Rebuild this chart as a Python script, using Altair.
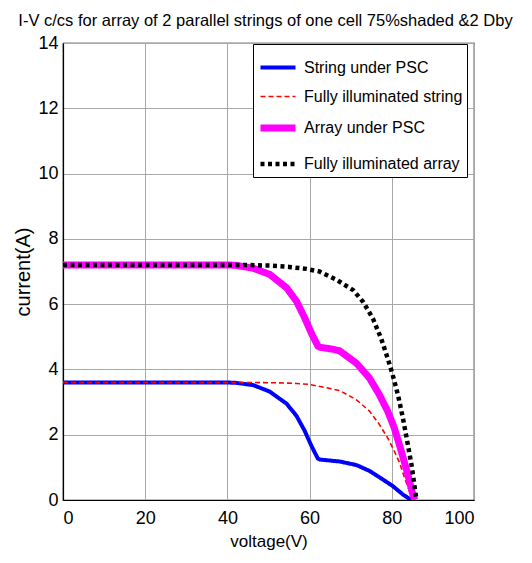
import altair as alt
import pandas as pd

# ---- data ----
series_names = ["String under PSC", "Fully illuminated string",
                "Array under PSC", "Fully illuminated array"]

str_psc_v = [0, 40, 42, 46.3, 50.3, 54.4, 56.8, 58.8, 60.4, 62.0, 62.5, 65.6, 67.3, 71.4, 74.6, 77.8, 80.2, 82.7, 84.7]
str_psc_i = [3.6, 3.6, 3.59, 3.52, 3.32, 2.95, 2.58, 2.12, 1.67, 1.27, 1.24, 1.20, 1.18, 1.07, 0.89, 0.63, 0.43, 0.17, 0.0]

str_full_v = [0, 45, 52, 56.8, 60, 64, 67.3, 69, 71.4, 74.6, 77, 79, 80.6, 81.9, 83.1, 84.3, 85.2]
str_full_i = [3.6, 3.6, 3.59, 3.57, 3.54, 3.44, 3.35, 3.24, 3.07, 2.72, 2.31, 1.9, 1.5, 1.14, 0.68, 0.27, 0.0]

arr_psc_v = [0, 40, 42, 46.3, 50.3, 54.4, 56.8, 58.8, 60.4, 62.0, 62.5, 65.6, 67.3, 71.4, 74.6, 77, 79, 80.6, 82.3, 83.9, 85.1, 85.6]
arr_psc_i = [7.2, 7.2, 7.19, 7.1, 6.91, 6.5, 6.09, 5.58, 5.12, 4.72, 4.68, 4.62, 4.57, 4.19, 3.73, 3.22, 2.72, 2.21, 1.5, 0.78, 0.17, 0.0]

arr_full_v = [0, 45, 50.3, 55, 59.2, 62.4, 66.5, 70.6, 73, 75.4, 77.4, 79, 80.2, 81.5, 82.7, 83.9, 84.9, 85.7, 86.0]
arr_full_i = [7.2, 7.2, 7.18, 7.14, 7.08, 7.0, 6.75, 6.43, 6.07, 5.56, 4.95, 4.34, 3.84, 3.22, 2.51, 1.7, 0.99, 0.27, 0.0]

x_ticks = [0, 20, 40, 60, 80, 100]
y_ticks = [0, 2, 4, 6, 8, 10, 12, 14]

rows = []
for k, (vs, cs) in enumerate([(str_psc_v, str_psc_i), (str_full_v, str_full_i),
                              (arr_psc_v, arr_psc_i), (arr_full_v, arr_full_i)]):
    for j, (v, c) in enumerate(zip(vs, cs)):
        rows.append({"series": series_names[k], "voltage": v, "current": c, "ord": j})
df = pd.DataFrame(rows)

FONT = "Liberation Sans, Arial, sans-serif"

color_scale = alt.Scale(domain=series_names, range=["#0000ff", "#ff0000", "#ff00ff", "#000000"])
dash_scale = alt.Scale(domain=series_names, range=[[1, 0], [5, 3], [1, 0], [4, 3.5]])
width_scale = alt.Scale(type="ordinal", domain=series_names, range=[4, 1.6, 7, 4.5])

legend = alt.Legend(title=None, orient="none", legendX=190, legendY=1,
                    symbolType="stroke", symbolSize=1225, labelFont=FONT,
                    labelFontSize=16, labelColor="black", labelOffset=5,
                    padding=4, rowPadding=2, strokeColor="black", fillColor="white",
                    labelLimit=300)

chart = alt.Chart(df).mark_line(strokeCap="butt", clip=True).encode(
    x=alt.X("voltage:Q", scale=alt.Scale(domain=[0, 100], nice=False),
            axis=alt.Axis(values=x_ticks, title="voltage(V)", format="d")),
    y=alt.Y("current:Q", scale=alt.Scale(domain=[0, 14], nice=False),
            axis=alt.Axis(values=y_ticks, title="current(A)", format="d")),
    color=alt.Color("series:N", scale=color_scale, legend=legend, sort=series_names),
    strokeDash=alt.StrokeDash("series:N", scale=dash_scale, legend=legend, sort=series_names),
    strokeWidth=alt.StrokeWidth("series:N", scale=width_scale, legend=legend, sort=series_names),
    order="ord:Q",
    detail="series:N",
).properties(
    width=411, height=457,
    title=alt.Title("I-V c/cs for array of 2 parallel strings of one cell 75%shaded &2 Dby",
                    font=FONT, fontSize=16.5, fontWeight="normal", color="black",
                    anchor="middle", offset=5, dx=-3),
    autosize=alt.AutoSizeParams(type="none"),
    padding={"left": 55, "top": 35, "right": 50, "bottom": 50},
).configure_view(
    stroke="black", strokeWidth=1.2
).configure_axis(
    grid=True, gridColor="#a8a8a8", gridWidth=1, gridOpacity=1,
    domainColor="black", domainWidth=1.2, ticks=False,
    labelFont=FONT, labelFontSize=18, labelColor="black",
    titleFont=FONT, titleFontWeight="normal", titleColor="black",
).configure_axisX(
    labelPadding=9, titlePadding=6, titleFontSize=17
).configure_axisY(
    labelPadding=5, titlePadding=4, titleFontSize=20
)

chart.save("out.html", embed_options={"renderer": "svg", "actions": False})
